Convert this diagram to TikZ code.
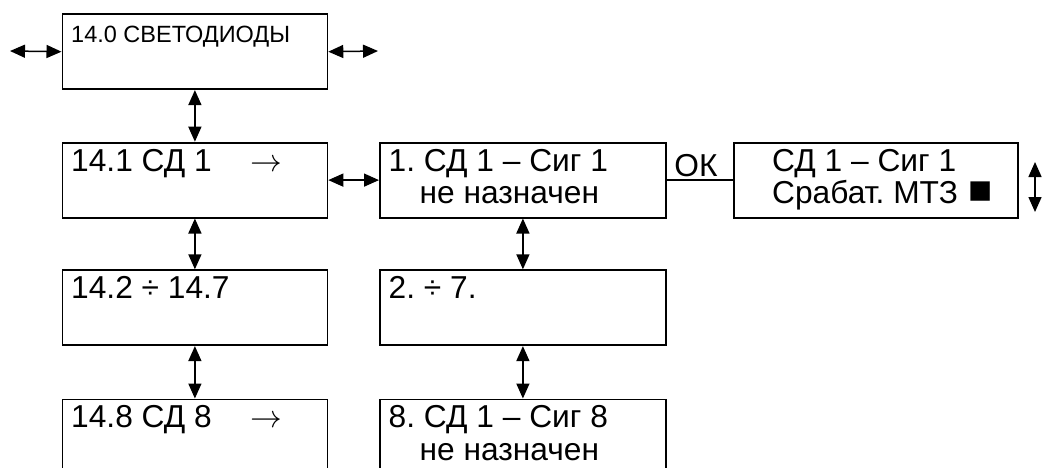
\RequirePackage{fix-cm}
\documentclass[tikz,border=0pt]{standalone}
\usepackage{fontspec}
\setmainfont{Liberation Sans}
\usetikzlibrary{arrows.meta,calc}
\frenchspacing
\tikzset{
  panel/.style={draw, line width=1.8pt, inner sep=0pt, anchor=north west, minimum height=75pt},
  narrow/.style={panel, minimum width=265pt},
  wide/.style={panel, minimum width=286pt},
  lcd/.style={anchor=base west, inner sep=0pt, font=\fontsize{31.7}{32}\selectfont},
  lcdsmall/.style={lcd, font=\fontsize{23.5}{24}\selectfont},
  nav/.style={{Triangle[length=15pt,width=13pt]}-{Triangle[length=15pt,width=13pt]}, line width=1.5pt},
}
\newcommand\nextarrow{$\rightarrow$}
\newcommand\setmark{{\fontsize{40}{40}\selectfont■}}
\begin{document}
\begin{tikzpicture}[x=1pt,y=-1pt]
    \clip (0,0) rectangle (1043,468);
    \node[narrow] (s0) at (61.5,13.3) {};
    \node[narrow] (s1) at (61.5,141.7) {};
    \node[narrow] (s2) at (61.5,269.3) {};
    \node[narrow] (s8) at (61.5,398.5) {};
    \node[wide] (c1) at (379,141.7) {};
    \node[wide] (c2) at (379,269.3) {};
    \node[wide] (c8) at (379,398.5) {};
    \node[panel, minimum width=284pt] (d1) at (733,141.7) {};

    \node[lcdsmall] (s0a) at ($(s0.north west)+(9.5,29)$) {14.0 СВЕТОДИОДЫ};
    \node[lcd] (s1a) at ($(s1.north west)+(9.5,29.3)$) {\makebox[179pt][l]{14.1 СД 1}\nextarrow};
    \node[lcd] (s2a) at ($(s2.north west)+(9.5,29.3)$) {14.2 ÷ 14.7};
    \node[lcd] (s8a) at ($(s8.north west)+(9.5,29.3)$) {\makebox[179pt][l]{14.8 СД 8}\nextarrow};
    \node[lcd] (c1a) at ($(c1.north west)+(9.5,29.3)$) {1. СД 1 – Сиг 1};
    \node[lcd] (c1b) at ($(c1.north west)+(40.5,61.6)$) {не назначен};
    \node[lcd] (c2a) at ($(c2.north west)+(9.5,29.3)$) {2. ÷ 7.};
    \node[lcd] (c8a) at ($(c8.north west)+(9.5,29.3)$) {8. СД 1 – Сиг 8};
    \node[lcd] (c8b) at ($(c8.north west)+(40.5,61.6)$) {не назначен};
    \node[lcd] (d1a) at ($(d1.north west)+(39,29.3)$) {СД 1 – Сиг 1};
    \node[lcd] (d1b) at ($(d1.north west)+(39,61.6)$) {Срабат. МТЗ\hspace{11pt}\setmark};

    \coordinate (s0w) at (10,51);
    \coordinate (s0e) at (378,51);
    \coordinate (d1u) at (1035,162);
    \coordinate (d1d) at (1035,212);

    \draw[nav] (s0w) -- (s0.west);
    \draw[nav] (s0.east) -- (s0e);
    \draw[nav] (s0.south) -- (s1.north);
    \draw[nav] (s1.south) -- (s2.north);
    \draw[nav] (s2.south) -- (s8.north);
    \draw[nav] (s1.east) -- (c1.west);
    \draw[nav] (c1.south) -- (c2.north);
    \draw[nav] (c2.south) -- (c8.north);
    \draw[nav] (d1u) -- (d1d);
    \draw[line width=1.5pt] (c1.east) -- node[lcd, anchor=base, yshift=4pt, xshift=-4pt] (ok) {ОК} (d1.west);
\end{tikzpicture}
\end{document}
